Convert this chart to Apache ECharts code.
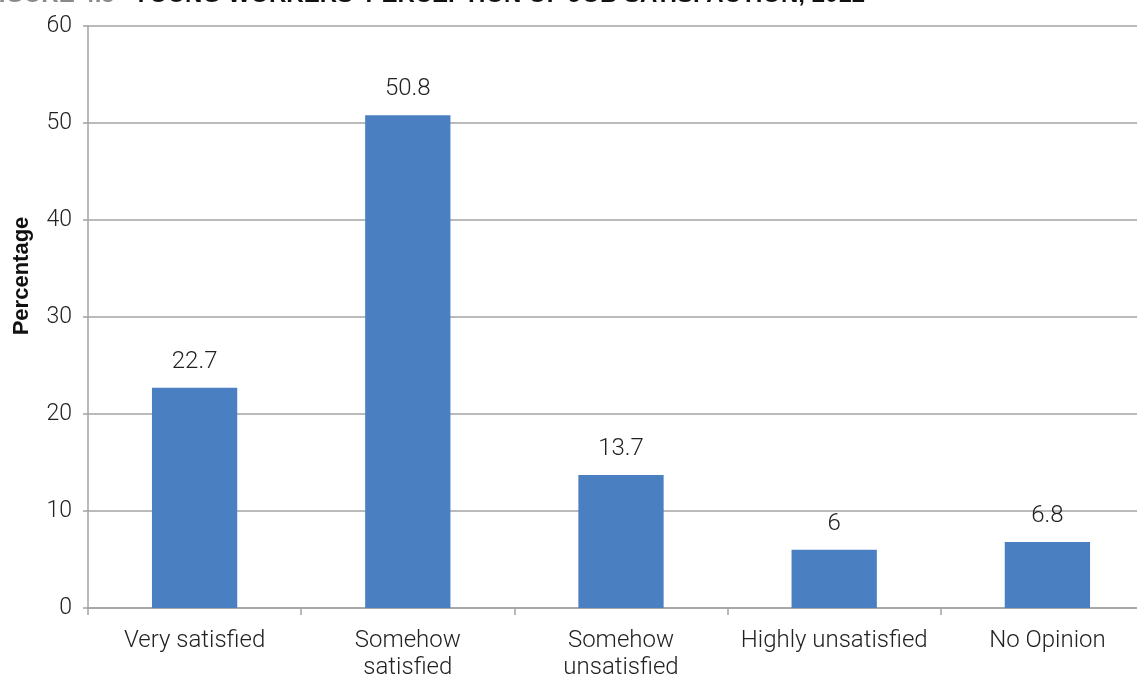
<!DOCTYPE html>
<html>
<head>
<meta charset="utf-8">
<script src="https://cdn.jsdelivr.net/npm/echarts@6/dist/echarts.min.js"></script>
<style>
  html, body { margin: 0; padding: 0; background: #fff; }
  #chart { width: 1137px; height: 677px; }
</style>
</head>
<body>
<div id="chart"></div>
<script>
// Survey responses: how young workers rate their job satisfaction
const categories = ['Very satisfied', 'Somehow\nsatisfied', 'Somehow\nunsatisfied', 'Highly unsatisfied', 'No Opinion'];
const percentages = [22.7, 50.8, 13.7, 6, 6.8];
const yTicks = { min: 0, max: 60, step: 10 };
const figureLabel = 'FIGURE 4.5';
const figureTitle = "YOUNG WORKERS' PERCEPTION OF JOB SATISFACTION, 2012";
const axisTitle = 'Percentage';

const chart = echarts.init(document.getElementById('chart'), null, { renderer: 'canvas' });
const textFont = 'Roboto';
const gridColor = '#a3a3a3';

chart.setOption({
  animation: false,
  backgroundColor: '#ffffff',
  grid: { left: 88, top: 26, width: 1066, height: 582, containLabel: false, outerBoundsMode: 'none' },
  graphic: [
    {
      type: 'text', x: -16, y: -5,
      style: { text: figureLabel, font: 'bold 24px "Liberation Sans", Arial', fill: '#8a8a8a', align: 'left', verticalAlign: 'middle' }
    },
    {
      type: 'text', x: 133, y: -5,
      style: { text: figureTitle, font: 'bold 24px "Liberation Sans", Arial', fill: '#111', align: 'left', verticalAlign: 'middle' }
    },
    {
      type: 'text', x: 22, y: 276, rotation: Math.PI / 2,
      style: { text: axisTitle, font: 'bold 22px "Liberation Sans", Arial', fill: '#111', align: 'center', verticalAlign: 'middle' }
    }
  ],
  xAxis: {
    type: 'category',
    data: categories,
    axisLine: { show: true, lineStyle: { color: gridColor, width: 1.5 } },
    axisTick: { show: true, alignWithLabel: false, interval: 0, length: 7, lineStyle: { color: gridColor, width: 1.5 } },
    axisLabel: { interval: 0, margin: 19, fontSize: 24, fontFamily: textFont, fontWeight: 300, color: '#222', lineHeight: 27 },
    splitLine: { show: false }
  },
  yAxis: {
    type: 'value',
    min: yTicks.min,
    max: yTicks.max,
    interval: yTicks.step,
    axisLine: { show: true, lineStyle: { color: gridColor, width: 1.5 } },
    axisTick: { show: true, length: 5, lineStyle: { color: gridColor, width: 1.5 } },
    axisLabel: { margin: 16, fontSize: 23, fontFamily: textFont, fontWeight: 300, color: '#222' },
    splitLine: { show: true, lineStyle: { color: gridColor, width: 1.5 } }
  },
  series: [{
    type: 'bar',
    data: percentages,
    barWidth: '40%',
    itemStyle: { color: '#4a7fc1' },
    label: {
      show: true, position: 'top', distance: 14,
      fontSize: 24, fontFamily: textFont, fontWeight: 300, color: '#222'
    }
  }]
});
</script>
</body>
</html>
